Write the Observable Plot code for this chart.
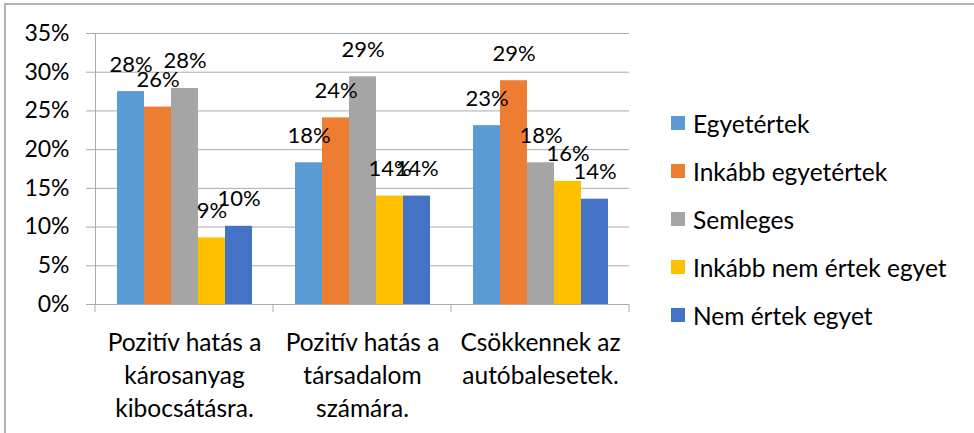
<!DOCTYPE html>
<html><head><meta charset="utf-8">
<script src="https://cdn.jsdelivr.net/npm/d3@7"></script>
<script src="https://cdn.jsdelivr.net/npm/@observablehq/plot@0.6"></script>
<style>
body{margin:0;background:#fff;}
#wrap{position:relative;width:974px;height:433px;overflow:hidden;font-family:Lato,sans-serif;}
#border{position:absolute;left:4px;top:3px;width:980px;height:440px;border-top:2px solid #b4b4b4;border-left:2px solid #b4b4b4;}
#chart{position:absolute;left:0;top:0;}
#legend{position:absolute;left:671px;top:99px;}
.row{height:48px;display:flex;align-items:center;font-size:24.5px;color:#000;white-space:nowrap;}
.sw{width:14px;height:14px;margin-right:8px;flex:none;}
</style></head><body>
<div id="wrap"><div id="border"></div><div id="chart"></div><div id="legend"></div></div>
<script>
const categories = ["Pozitív hatás a\nkárosanyag\nkibocsátásra.", "Pozitív hatás a\ntársadalom\nszámára.", "Csökkennek az\nautóbalesetek."];
const series = ["Egyetértek", "Inkább egyetértek", "Semleges", "Inkább nem értek egyet", "Nem értek egyet"];
const colors = ["#5B9BD5", "#ED7D31", "#A5A5A5", "#FFC000", "#4472C4"];
const egyetertek = [0.275, 0.183, 0.231];
const inkabbEgyetertek = [0.255, 0.241, 0.289];
const semleges = [0.279, 0.294, 0.183];
const inkabbNemErtekEgyet = [0.086, 0.140, 0.159];
const nemErtekEgyet = [0.101, 0.140, 0.136];
const yTicks = [0, 0.05, 0.10, 0.15, 0.20, 0.25, 0.30, 0.35];

const seriesValues = [egyetertek, inkabbEgyetertek, semleges, inkabbNemErtekEgyet, nemErtekEgyet];
const data = series.flatMap((s, i) => categories.map((c, j) => ({series: s, category: c, value: seriesValues[i][j]})));
const pct = d => Math.round(d * 100) + "%";
const lineColor = "#ababab";

const chart = Plot.plot({
  width: 974, height: 433,
  marginLeft: 94, marginRight: 345, marginTop: 33, marginBottom: 129,
  style: {fontFamily: "Lato, sans-serif", fontSize: "23px", color: "#000", background: "transparent"},
  fx: {domain: categories, padding: 0, label: null},
  x: {domain: series, paddingInner: 0, paddingOuter: 0.75, axis: null},
  y: {domain: [0, 0.35], label: null},
  color: {domain: series, range: colors},
  marks: [
    Plot.gridY(yTicks, {stroke: lineColor, strokeOpacity: 1}),
    Plot.axisY(yTicks, {tickFormat: pct, tickSize: 9, tickPadding: 17, stroke: lineColor, fill: "#000", label: null}),
    Plot.frame({anchor: "left", facetAnchor: "left", stroke: lineColor}),
    Plot.barY(data, {fx: "category", x: "series", y: "value", fill: "series"}),
    Plot.ruleY([0], {stroke: lineColor}),
    Plot.text(data, {fx: "category", x: "series", y: "value", text: d => pct(d.value), lineAnchor: "bottom", dy: -20, fontSize: 22, fill: "#000"}),
    Plot.axisFx({anchor: "bottom", tickSize: 0, tickPadding: 23, lineHeight: 1.35, fontSize: 24.5, label: null, fill: "#000"})
  ]
});
document.getElementById("chart").appendChild(chart);

// category boundary ticks on the x axis, from the fx band scale
const fx = chart.scale("fx");
const yS = chart.scale("y");
const y0 = yS.apply(0);
const edges = categories.map(c => fx.apply(c)).concat([fx.apply(categories[categories.length - 1]) + fx.bandwidth]);
d3.select(chart).append("g").selectAll("line").data(edges).join("line")
  .attr("x1", d => d).attr("x2", d => d).attr("y1", y0).attr("y2", y0 + 8)
  .attr("stroke", lineColor);

// legend
const color = chart.scale("color");
const lg = d3.select("#legend");
series.forEach(s => {
  const r = lg.append("div").attr("class", "row");
  r.append("div").attr("class", "sw").style("background", color.apply(s));
  r.append("span").text(s);
});
</script>
</body></html>
